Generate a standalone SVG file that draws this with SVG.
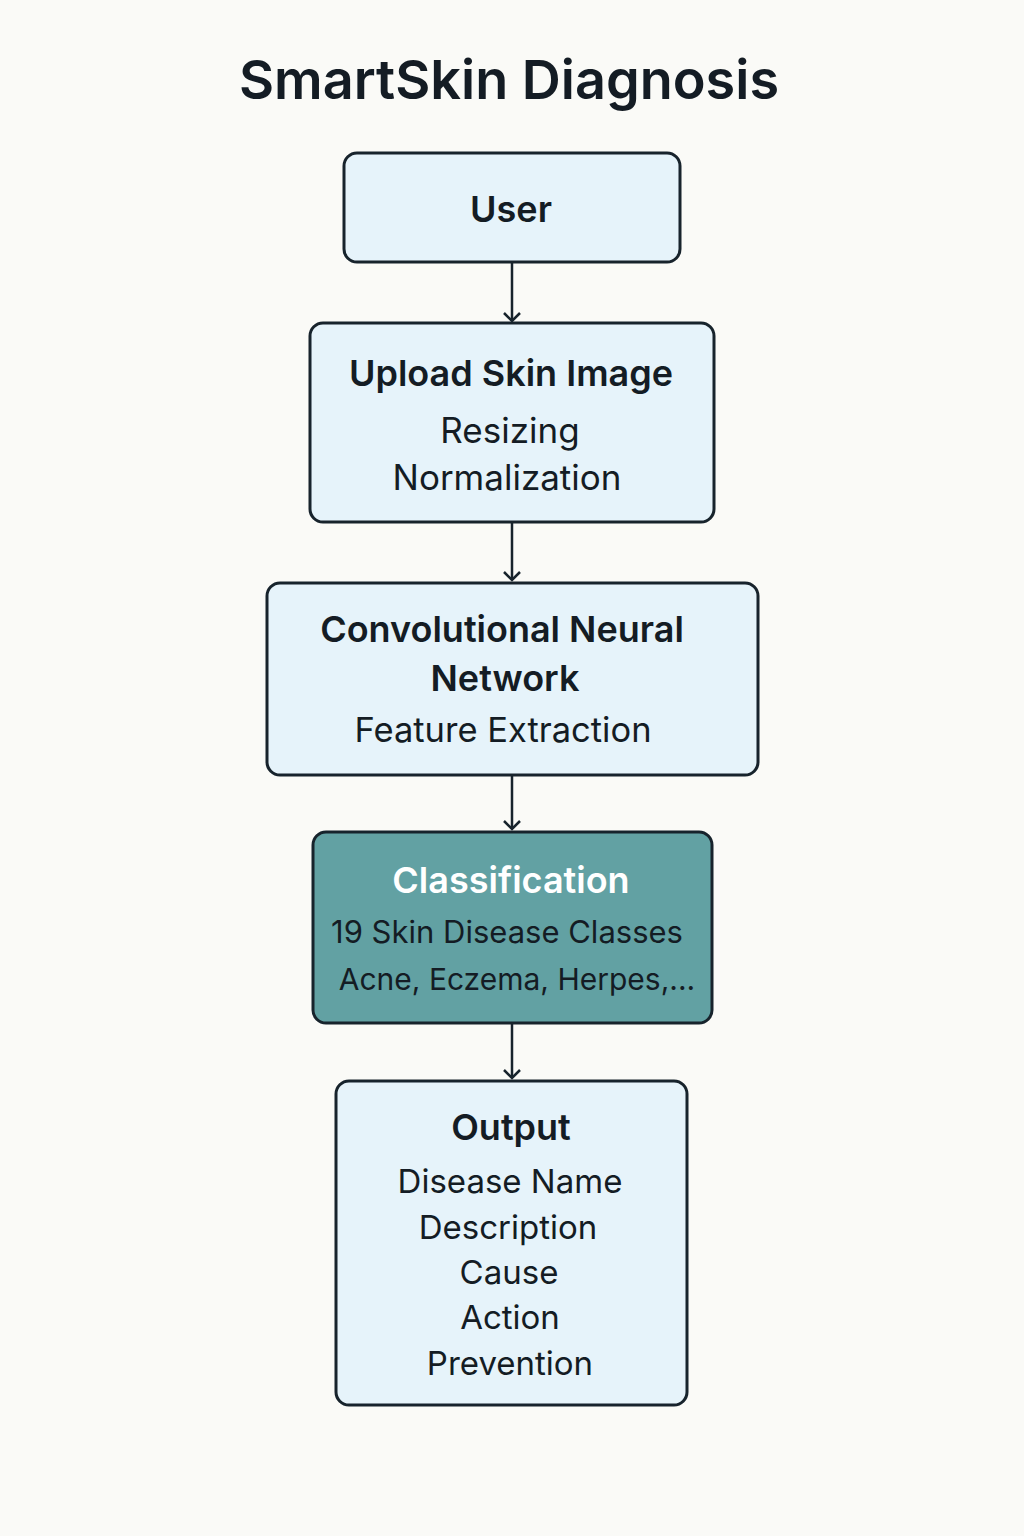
<svg xmlns="http://www.w3.org/2000/svg" width="1024" height="1536" viewBox="0 0 1024 1536">
<defs>
<style>
.box{fill:#e6f3fa;stroke:#17232c;stroke-width:3}
.hl{fill:#62a1a3;stroke:#17232c;stroke-width:3}
.t{font-family:Inter,"Noto Sans","Liberation Sans",sans-serif;text-anchor:middle;fill:#141c24}
.b{font-weight:600;font-size:36px}
.r{font-weight:400;font-size:33px}
.w{fill:#ffffff}
.c{stroke:#17232c;stroke-width:2.5;fill:none}
</style>
<marker id="ah" viewBox="0 0 20 20" refX="17" refY="10" markerWidth="20" markerHeight="20" markerUnits="userSpaceOnUse" orient="auto">
<path d="M9 2 L17 10 L9 18" fill="none" stroke="#17232c" stroke-width="2.5"/>
</marker>
</defs>
<rect width="1024" height="1536" fill="#fafaf7"/>
<text class="t" x="509" y="99" style="font-size:54px;font-weight:600">SmartSkin Diagnosis</text>
<g id="connectors">
<line class="c" x1="512" y1="262" x2="512" y2="321" marker-end="url(#ah)"/>
<line class="c" x1="512" y1="522" x2="512" y2="580" marker-end="url(#ah)"/>
<line class="c" x1="512" y1="775" x2="512" y2="829" marker-end="url(#ah)"/>
<line class="c" x1="512" y1="1023" x2="512" y2="1078" marker-end="url(#ah)"/>
</g>
<g id="user">
<rect class="box" x="344" y="153" width="336" height="109" rx="13"/>
<text class="t b" x="511" y="222">User</text>
</g>
<g id="upload">
<rect class="box" x="310" y="323" width="404" height="199" rx="13"/>
<text class="t b" x="511" y="386">Upload Skin Image</text>
<text class="t r" x="510" y="443" style="font-size:35px">Resizing</text>
<text class="t r" x="507" y="490" style="font-size:35px">Normalization</text>
</g>
<g id="cnn">
<rect class="box" x="267" y="583" width="491" height="192" rx="13"/>
<text class="t b" x="502" y="642">Convolutional Neural</text>
<text class="t b" x="505" y="691">Network</text>
<text class="t r" x="503" y="742" style="font-size:34.5px">Feature Extraction</text>
</g>
<g id="classification">
<rect class="hl" x="313" y="832" width="399" height="191" rx="13"/>
<text class="t b w" x="511" y="893">Classification</text>
<text class="t r" x="507" y="943" style="font-size:31px">19 Skin Disease Classes</text>
<text class="t r" x="517" y="990" style="font-size:30px">Acne, Eczema, Herpes,...</text>
</g>
<g id="output">
<rect class="box" x="336" y="1081" width="351" height="324" rx="13"/>
<text class="t b" x="511" y="1140">Output</text>
<text class="t r" x="510" y="1193">Disease Name</text>
<text class="t r" x="508" y="1239">Description</text>
<text class="t r" x="509" y="1284">Cause</text>
<text class="t r" x="510" y="1329">Action</text>
<text class="t r" x="510" y="1375">Prevention</text>
</g>
</svg>
